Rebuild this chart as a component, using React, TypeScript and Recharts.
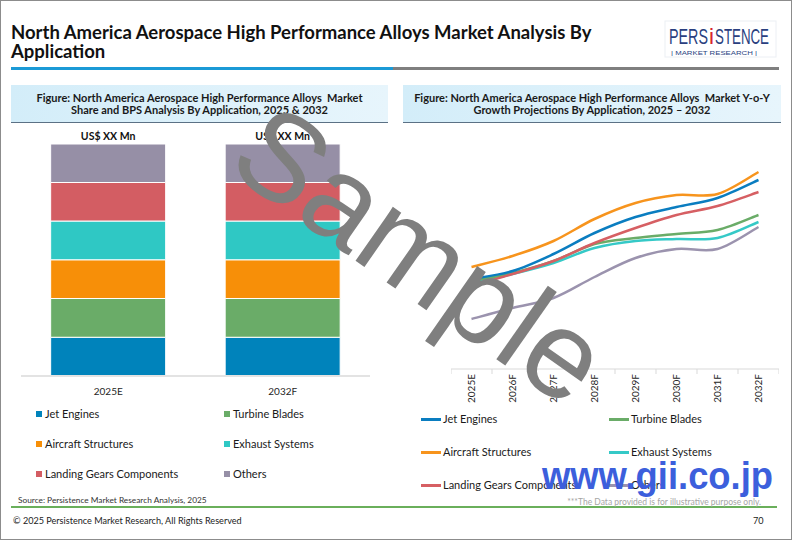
import React from 'react';
import { BarChart, Bar, XAxis, YAxis, LabelList, LineChart, Line } from 'recharts';

// ---------- Data ----------
const segments = ['Jet Engines', 'Turbine Blades', 'Aircraft Structures', 'Exhaust Systems', 'Landing Gears Components', 'Others'];
const barColors = ['#0083bb', '#6aac68', '#f78f08', '#2fc8c4', '#d35d63', '#968fa6'];
const lineColors = ['#0a7dc0', '#6aac68', '#f7941d', '#35c9c7', '#d65f63', '#9b93ae'];

const barYears = ['2025E', '2032F'];
const barTopLabels = ['US$ XX Mn', 'US$ XX Mn'];
const share2025 = [16.7, 16.7, 16.7, 16.7, 16.6, 16.6];
const share2032 = [16.7, 16.7, 16.7, 16.7, 16.6, 16.6];

const lineYears = ['2025E', '2026F', '2027F', '2028F', '2029F', '2030F', '2031F', '2032F'];
const jetEngines = [9.0, 9.8, 11.5, 13.6, 15.2, 16.2, 17.1, 18.9];
const turbineBlades = [8.8, 9.6, 10.8, 12.5, 13.1, 13.5, 13.9, 15.4];
const aircraftStructures = [10.2, 11.3, 12.8, 15.0, 16.6, 17.4, 17.5, 19.7];
const exhaustSystems = [8.6, 9.5, 10.6, 12.1, 12.8, 13.0, 13.1, 14.7];
const landingGears = [8.3, 9.5, 10.8, 12.6, 14.1, 15.4, 16.3, 17.7];
const others = [5.0, 6.1, 7.1, 9.2, 11.1, 12.0, 12.0, 14.2];

const lineSeries = [jetEngines, turbineBlades, aircraftStructures, exhaustSystems, landingGears, others];

const barData = barYears.map((year, i) => {
  const vals = i === 0 ? share2025 : share2032;
  const row: any = { year, top: barTopLabels[i] };
  segments.forEach((_, k) => { row['s' + k] = vals[k]; });
  return row;
});

const lineData = lineYears.map((year, i) => {
  const row: any = { year };
  lineSeries.forEach((s, k) => { row['l' + k] = s[i]; });
  return row;
});

const FONT = 'Lato, "Open Sans", sans-serif';
const LINE_W = 328;
const BAND = LINE_W / lineYears.length;

// Excel-style smoothed line (Catmull-Rom as cubic Bezier)
const smoothCurve = (context: any) => {
  let pts: number[][] = [];
  return {
    areaStart() {},
    areaEnd() {},
    lineStart() { pts = []; },
    point(x: number, y: number) { pts.push([+x, +y]); },
    lineEnd() {
      if (!pts.length) return;
      context.moveTo(pts[0][0], pts[0][1]);
      for (let i = 0; i < pts.length - 1; i++) {
        const p0 = pts[i - 1] || pts[i];
        const p1 = pts[i];
        const p2 = pts[i + 1];
        const p3 = pts[i + 2] || p2;
        context.bezierCurveTo(
          p1[0] + (p2[0] - p0[0]) / 6, p1[1] + (p2[1] - p0[1]) / 6,
          p2[0] - (p3[0] - p1[0]) / 6, p2[1] - (p3[1] - p1[1]) / 6,
          p2[0], p2[1],
        );
      }
    },
  };
};

const LineTick = (props: any) => {
  const { x, y, payload, index } = props;
  const last = index === lineYears.length - 1;
  return (
    <g>
      <line x1={x - BAND / 2} y1={y} x2={x - BAND / 2} y2={y + 5} stroke="#d9d9d9" />
      {last && <line x1={x + BAND / 2} y1={y} x2={x + BAND / 2} y2={y + 5} stroke="#d9d9d9" />}
      <text
        x={x}
        y={y + 5}
        transform={`rotate(-90, ${x}, ${y + 5})`}
        textAnchor="end"
        dy="0.35em"
        fontSize={10}
        fontFamily={FONT}
        fill="#262626"
      >
        {payload.value}
      </text>
    </g>
  );
};

const abs = (l: number, t: number, extra: any = {}) => ({ position: 'absolute' as const, left: l, top: t, ...extra });

export default function App() {
  const legendRowsLeft = [413, 443, 473];
  const legendRowsRight = [418, 451, 484];
  const headerStyle = {
    height: 38, boxSizing: 'border-box' as const, background: 'linear-gradient(to right, #d3edf9, #e7f5fc)',
    borderBottom: '1.5px solid #5b7185', textAlign: 'center' as const, fontSize: 11, fontWeight: 700, lineHeight: '12.5px',
    paddingTop: 6.5, color: '#1a1a1a', whiteSpace: 'nowrap' as const,
  };
  return (
    <div
      style={{
        position: 'absolute', left: 0, top: 0, width: 792, height: 540, boxSizing: 'border-box',
        border: '1px solid #8c8c8c', background: '#fff', fontFamily: FONT, overflow: 'hidden',
      }}
    >
      {/* Title */}
      <div style={abs(10, 22, { fontSize: 18.5, fontWeight: 700, lineHeight: '19px', color: '#111', whiteSpace: 'nowrap' })}>
        North America Aerospace High Performance Alloys Market Analysis By<br />Application
      </div>
      <div style={abs(10, 66, { width: 382, height: 3, background: '#1b9ad6' })} />
      <div style={abs(392, 66, { width: 386, height: 3, background: '#7f7f7f' })} />

      {/* Logo */}
      <svg style={abs(663, 18)} width={126} height={42}>
        <rect x={1} y={2} width={111} height={36} fill="none" stroke="#eceff4" />
        <text x={5} y={25} fontSize={22} fontFamily="'Liberation Sans', sans-serif" textLength={39} lengthAdjust="spacingAndGlyphs" fill="#2a3f7f">PERS</text>
        <text x={45} y={25} fontSize={22} fontFamily="'Liberation Sans', sans-serif" textLength={5} lengthAdjust="spacingAndGlyphs" fill="#d7262e">i</text>
        <text x={51} y={25} fontSize={22} fontFamily="'Liberation Sans', sans-serif" textLength={54} lengthAdjust="spacingAndGlyphs" fill="#2a3f7f">STENCE</text>
        <text x={7} y={36} fontSize={5.5} fontFamily="'Liberation Sans', sans-serif" textLength={86} lengthAdjust="spacingAndGlyphs" fill="#2a3f7f">
          | MARKET RESEARCH |
        </text>
      </svg>

      {/* Panel headers */}
      <div style={abs(10, 84, { width: 377, ...headerStyle })}>
        Figure: North America Aerospace High Performance Alloys&nbsp; Market<br />Share and BPS Analysis By Application, 2025 &amp; 2032
      </div>
      <div style={abs(402, 84, { width: 378, ...headerStyle })}>
        Figure: North America Aerospace High Performance Alloys&nbsp; Market Y-o-Y<br />Growth Projections By Application, 2025 – 2032
      </div>

      {/* Stacked bar chart */}
      <div style={abs(20, 123)}>
        <BarChart width={349} height={284} data={barData} margin={{ top: 20, right: 0, bottom: 0, left: 0 }} barCategoryGap="17%">
          <XAxis
            dataKey="year"
            height={32}
            tickLine={false}
            tickSize={0}
            tickMargin={12}
            axisLine={{ stroke: '#e3e3e3', strokeWidth: 2 }}
            tick={{ fontSize: 10, fill: '#262626', fontFamily: FONT }}
          />
          <YAxis hide domain={[0, 100]} />
          {segments.map((name, k) => (
            <Bar key={name} dataKey={'s' + k} name={name} stackId="a" fill={barColors[k]} stroke="#ffffff" strokeWidth={1} isAnimationActive={false}>
              {k === segments.length - 1 && (
                <LabelList dataKey="top" position="top" offset={4} style={{ fontSize: 10.5, fontWeight: 700, fill: '#111', fontFamily: FONT }} />
              )}
            </Bar>
          ))}
        </BarChart>
      </div>

      {/* Left legend */}
      {segments.map((name, k) => {
        const col = k % 2;
        const row = Math.floor(k / 2);
        const cy = legendRowsLeft[row];
        const mx = col === 0 ? 35 : 223;
        return (
          <React.Fragment key={name}>
            <div style={abs(mx, cy - 3, { width: 6, height: 6, background: barColors[k] })} />
            <div style={abs(mx + 9, cy - 8, { fontSize: 11, lineHeight: '16px', color: '#1a1a1a', whiteSpace: 'nowrap' })}>{name}</div>
          </React.Fragment>
        );
      })}

      {/* Line chart */}
      <div style={abs(450, 148)}>
        <LineChart width={LINE_W} height={260} data={lineData} margin={{ top: 10, right: 0, bottom: 0, left: 0 }}>
          <XAxis
            dataKey="year"
            height={40}
            interval={0}
            padding={{ left: BAND / 2, right: BAND / 2 }}
            tickLine={false}
            tickSize={0}
            tickMargin={0}
            axisLine={{ stroke: '#d9d9d9' }}
            tick={<LineTick />}
          />
          <YAxis hide domain={[0, 21]} />
          {[5, 3, 1, 4, 0, 2].map((k) => (
            <Line
              key={segments[k]}
              dataKey={'l' + k}
              name={segments[k]}
              type={smoothCurve as any}
              stroke={lineColors[k]}
              strokeWidth={2.5}
              dot={false}
              isAnimationActive={false}
            />
          ))}
        </LineChart>
      </div>

      {/* Right legend */}
      {segments.map((name, k) => {
        const col = k % 2;
        const row = Math.floor(k / 2);
        const cy = legendRowsRight[row];
        const mx = col === 0 ? 420 : 608;
        return (
          <React.Fragment key={name + 'r'}>
            <div style={abs(mx, cy - 1.5, { width: 20, height: 3, background: lineColors[k] })} />
            <div style={abs(mx + 22, cy - 8, { fontSize: 11, lineHeight: '16px', color: '#1a1a1a', whiteSpace: 'nowrap' })}>{name}</div>
          </React.Fragment>
        );
      })}

      {/* Footer */}
      <div style={abs(17, 494, { fontSize: 8.3, lineHeight: '10px', color: '#333', whiteSpace: 'nowrap' })}>
        Source: Persistence Market Research Analysis, 2025
      </div>
      <div style={abs(10, 505, { width: 766, height: 2, background: '#6aaf5b' })} />
      <div style={abs(12, 514, { fontSize: 9.1, lineHeight: '12px', color: '#222', whiteSpace: 'nowrap' })}>
        © 2025 Persistence Market Research, All Rights Reserved
      </div>
      <div style={abs(752, 514, { fontSize: 9.1, lineHeight: '12px', color: '#222' })}>70</div>

      {/* Watermarks */}
      <svg style={abs(0, 0, { pointerEvents: 'none' })} width={792} height={540}>
        <text
          x={420}
          y={253}
          transform="rotate(35, 420, 253)"
          textAnchor="middle"
          dominantBaseline="central"
          fontSize={124}
          fontFamily="'Liberation Sans', Arial, sans-serif"
          fill="#7f7f7f"
        >
          Sample
        </text>
        <text
          x={760}
          y={504}
          textAnchor="end"
          fontSize={8.5}
          fontFamily={FONT}
          fill="#a6a6a6"
        >
          ***The Data provided is for illustrative purpose only.
        </text>
        <text
          x={541}
          y={488}
          fontSize={38}
          fontWeight={700}
          fontFamily="'Liberation Sans', Arial, sans-serif"
          textLength={231}
          lengthAdjust="spacingAndGlyphs"
          fill="#3c5fdc"
        >
          www.gii.co.jp
        </text>
      </svg>
    </div>
  );
}
